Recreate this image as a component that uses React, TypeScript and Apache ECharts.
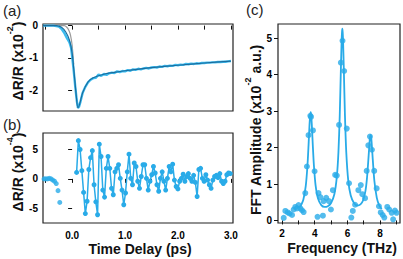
import React, { useEffect, useRef } from "react";
import * as echarts from "echarts";

const FONT = "'Liberation Sans', Arial, Helvetica, sans-serif";
const LIGHT = "#29abe8";
const DARK = "#1b6d9e";

// (a) transient reflectivity, ΔR/R in units of 1e-2
const decayTime = [
  -0.55, -0.45, -0.35, -0.25, -0.2, -0.15, -0.1, -0.05, -0.02, 0.0, 0.03, 0.06, 0.09, 0.11, 0.13,
  0.16, 0.2, 0.25, 0.3, 0.35, 0.4, 0.45, 0.5, 0.55, 0.6, 0.65, 0.7, 0.75, 0.8, 0.85, 0.9, 0.95,
  1.0, 1.05, 1.1, 1.15, 1.2, 1.25, 1.3, 1.35, 1.4, 1.45, 1.5, 1.55, 1.6, 1.65, 1.7, 1.75, 1.8,
  1.85, 1.9, 1.95, 2.0, 2.05, 2.1, 2.15, 2.2, 2.25, 2.3, 2.35, 2.4, 2.45, 2.5, 2.55, 2.6, 2.65,
  2.7, 2.75, 2.8, 2.85, 2.9, 2.95, 3.0,
];
const decayData = [
  0, 0, 0, -0.03, -0.1, -0.22, -0.38, -0.52, -0.68, -0.95, -1.4, -1.9, -2.35, -2.55, -2.52,
  -2.35, -2.08, -1.9, -1.76, -1.68, -1.63, -1.62, -1.52, -1.56, -1.5, -1.53, -1.48, -1.46, -1.47,
  -1.42, -1.44, -1.41, -1.42, -1.38, -1.4, -1.36, -1.37, -1.34, -1.36, -1.33, -1.31, -1.33, -1.3,
  -1.29, -1.3, -1.27, -1.28, -1.25, -1.26, -1.24, -1.25, -1.22, -1.23, -1.21, -1.22, -1.19, -1.2,
  -1.18, -1.19, -1.17, -1.18, -1.16, -1.16, -1.15, -1.15, -1.14, -1.14, -1.13, -1.13, -1.12,
  -1.12, -1.11, -1.1,
];
const decayFitTime = [
  -0.55, -0.3, -0.2, -0.12, -0.05, 0.0, 0.04, 0.08, 0.11, 0.14, 0.2, 0.3, 0.4, 0.6, 0.8, 1.0,
  1.3, 1.6, 2.0, 2.5, 3.0,
];
const decayFit = [
  0, 0, -0.05, -0.2, -0.45, -0.85, -1.5, -2.2, -2.55, -2.45, -2.08, -1.75, -1.62, -1.51, -1.45,
  -1.4, -1.34, -1.29, -1.23, -1.16, -1.1,
];
const onsetTime = [-0.25, -0.15, -0.1, -0.06, -0.03, 0.0, 0.03];
const onsetTrace = [0, 0, -0.05, -0.15, -0.3, -0.6, -1.2];

// (b) oscillatory residual, units of 1e-4
const oscPreTime = [-0.53, -0.497, -0.464, -0.431, -0.398, -0.365, -0.332, -0.299, -0.266, -0.233];
const oscPre = [0, 0, 0, 0.1, 0, -0.2, -0.4, -0.8, -2.0, -4.0];
const oscStart = 0.085;
const oscStep = 0.033;
const oscData = [
  1.1, 6.5, 5.0, 1.4, -2.3, -5.9, -3.8, 1.6, 3.6, 4.8, -1.0, -3.9, -6.1, 5.9, 3.8, -1.9, -3.1,
  1.8, 3.8, 1.8, -1.6, -2.7, 1.2, 1.8, 2.4, 0.1, -1.9, -4.4, -2.4, 1.2, 4.2, 0.1, -1.0, 2.7, 2.1,
  -0.4, -1.6, 0.4, 2.4, 2.4, 0.1, -1.9, -0.4, 0.7, 2.1, 1.0, -1.0, -2.1, 0.1, 1.2, -0.4, -1.9,
  0.1, 2.1, 1.2, 2.5, -0.2, -1.3, -1.7, -0.4, 0.1, 0.8, -0.4, 0.4, 0.9, 0.1, -0.4, 0.6, -0.6,
  -3.0, 1.6, 1.8, 0.1, -0.4, 0.7, -0.2, -1.0, -1.6, -0.2, 0.4, 0.6, 0.2, 0.9, -0.4, -0.8, -0.4,
  0.7, 1.0, 0.9,
];

// (c) FFT amplitude, units of 1e-2
const fftFreq = [
  2.1, 2.2, 2.34, 2.46, 2.61, 2.71, 2.81, 2.91, 3.01, 3.12, 3.22, 3.32, 3.42, 3.52, 3.62, 3.73,
  3.77, 3.89, 3.99, 4.17, 4.23, 4.34, 4.5, 4.54, 4.7, 4.87, 4.99, 5.11, 5.25, 5.35, 5.49, 5.6,
  5.7, 5.8, 5.96, 6.1, 6.24, 6.33, 6.47, 6.67, 6.82, 6.91, 7.08, 7.18, 7.28, 7.38, 7.5, 7.64,
  7.79, 7.93, 8.04, 8.16, 8.26, 8.44, 8.56, 8.71, 8.8, 8.91, 9.01,
];
const fftAmp = [
  0.07, 0.26, 0.22, 0.19, 0.15, 0.3, 0.37, 0.33, 0.42, 0.33, 0.28, 0.23, 0.75, 1.48, 2.34, 2.87,
  2.84, 2.47, 1.35, 0.1, 0.75, 0.64, 0.13, 0.53, 0.62, 0.53, 0.3, 0.83, 1.25, 1.23, 2.62, 4.33,
  4.93, 4.1, 2.52, 1.02, 0.08, 0.26, 0.43, 0.83, 0.97, 0.72, 0.61, 1.36, 2.06, 2.3, 1.94, 1.36,
  0.88, 0.39, 0.22, 0.15, 0.08, 0.37, 0.3, 0.21, 0.03, 0.27, 0.21,
];
const fitFreq = [
  3.1, 3.3, 3.45, 3.55, 3.62, 3.68, 3.72, 3.75, 3.78, 3.82, 3.88, 3.95, 4.05, 4.2, 4.4, 4.6, 4.8,
  5.0, 5.2, 5.35, 5.45, 5.53, 5.6, 5.65, 5.67, 5.69, 5.71, 5.73, 5.78, 5.85, 5.93, 6.05, 6.2,
  6.4, 6.6, 6.8, 6.95, 7.1, 7.2, 7.3, 7.36, 7.39, 7.42, 7.45, 7.48, 7.55, 7.65, 7.8, 7.95, 8.1,
];
const fitAmp = [
  0.36, 0.57, 0.95, 1.48, 2.06, 2.63, 2.88, 2.97, 2.9, 2.63, 2.07, 1.5, 0.97, 0.6, 0.42, 0.37,
  0.39, 0.48, 0.72, 1.19, 1.87, 2.87, 4.15, 4.99, 5.17, 5.26, 5.17, 4.99, 4.15, 2.87, 1.87, 1.1,
  0.69, 0.48, 0.41, 0.44, 0.54, 0.8, 1.17, 1.78, 2.17, 2.3, 2.35, 2.3, 2.16, 1.69, 1.09, 0.62,
  0.41, 0.31,
];

const timeTicks = [-0.5, 0, 0.5, 1, 1.5, 2, 2.5, 3];
const timeLabels = [0, 1, 2, 3];
const decayTicks = [0, -1, -2];
const oscTicks = [-5, 0, 5];
const freqTicks = [2, 3, 4, 5, 6, 7, 8, 9];
const freqLabels = [2, 4, 6, 8];
const fftTicks = [0, 1, 2, 3, 4, 5];

const zip = (xs: number[], ys: number[]) => xs.map((x, i) => [x, ys[i]]);

const tick = (values: number[]) => ({
  show: true,
  inside: false,
  length: 4,
  lineStyle: { color: "#111", width: 1 },
  customValues: values,
});

const label = (values: number[] | null, margin: number, fmt?: (v: number) => string) =>
  values
    ? {
        show: true,
        customValues: values,
        margin,
        color: "#000",
        fontSize: 10,
        fontWeight: "bold" as const,
        fontFamily: FONT,
        formatter: fmt ?? ((v: number) => String(v)),
      }
    : { show: false };

const axis = (
  gridIndex: number,
  min: number,
  max: number,
  ticks: number[],
  labels: number[] | null,
  margin: number,
  fmt?: (v: number) => string
) => ({
  type: "value" as const,
  gridIndex,
  min,
  max,
  axisLine: { show: false },
  axisTick: tick(ticks),
  axisLabel: label(labels, margin, fmt),
  splitLine: { show: false },
});

// rotated axis title with a superscript exponent
const expTitle = (x: number, y: number, main: string, sup: string, tail: string) => ({
  type: "text",
  x,
  y,
  rotation: Math.PI / 2,
  style: {
    text: `{b|${main}}{s|${sup}}{b|${tail}}`,
    align: "center",
    verticalAlign: "middle",
    rich: {
      b: {
        fontFamily: FONT,
        fontSize: 14,
        fontWeight: "bold",
        fill: "#111",
        lineHeight: 19,
        verticalAlign: "bottom",
      },
      s: {
        fontFamily: FONT,
        fontSize: 9,
        fontWeight: "bold",
        fill: "#111",
        lineHeight: 19,
        verticalAlign: "top",
      },
    },
  },
});

const plainTitle = (x: number, y: number, text: string) => ({
  type: "text",
  x,
  y,
  style: {
    text,
    fontFamily: FONT,
    fontSize: 14,
    fontWeight: "bold",
    fill: "#111",
    align: "center",
    verticalAlign: "middle",
  },
});

const panelLabel = (x: number, y: number, text: string) => ({
  type: "text",
  x,
  y,
  style: { text, fontFamily: FONT, fontSize: 15, fill: "#222", align: "left", verticalAlign: "top" },
});

export default function App() {
  const ref = useRef<HTMLDivElement>(null);

  useEffect(() => {
    if (!ref.current) return;
    const chart = echarts.init(ref.current, undefined, { renderer: "svg" });
    const frame = { show: true, borderColor: "#222", borderWidth: 1.2, backgroundColor: "transparent" };

    chart.setOption({
      animation: false,
      grid: [
        { ...frame, left: 43, top: 24, width: 190, height: 87 },
        { ...frame, left: 43, top: 133, width: 190, height: 90 },
        { ...frame, left: 278, top: 24, width: 122, height: 199 },
      ],
      xAxis: [
        axis(0, -0.55, 3.04, timeTicks, null, 0),
        axis(1, -0.55, 3.04, timeTicks, timeLabels, 7, (v) => v.toFixed(1)),
        axis(2, 1.75, 9.22, freqTicks, freqLabels, 5),
      ],
      yAxis: [
        axis(0, -2.65, 0.05, decayTicks, decayTicks, 5),
        axis(1, -7.5, 7.8, oscTicks, oscTicks, 5),
        axis(2, -0.07, 5.39, fftTicks, fftTicks, 6),
      ],
      series: [
        {
          type: "line",
          xAxisIndex: 0,
          yAxisIndex: 0,
          data: zip(onsetTime, onsetTrace),
          showSymbol: false,
          smooth: 0.3,
          lineStyle: { color: "#9a9a9a", width: 1.2 },
          z: 1,
        },
        {
          type: "line",
          xAxisIndex: 0,
          yAxisIndex: 0,
          data: zip(decayTime, decayData),
          showSymbol: false,
          lineStyle: { color: "#3cbcf0", width: 2.4 },
          z: 2,
        },
        {
          type: "line",
          xAxisIndex: 0,
          yAxisIndex: 0,
          data: zip(decayFitTime, decayFit),
          showSymbol: false,
          smooth: 0.3,
          lineStyle: { color: DARK, width: 1.2 },
          z: 3,
        },
        {
          type: "scatter",
          xAxisIndex: 1,
          yAxisIndex: 1,
          data: zip(oscPreTime, oscPre),
          symbolSize: 5,
          itemStyle: { color: LIGHT },
        },
        {
          type: "line",
          xAxisIndex: 1,
          yAxisIndex: 1,
          data: oscData.map((v, i) => [oscStart + i * oscStep, v]),
          symbol: "circle",
          symbolSize: 5,
          showSymbol: true,
          lineStyle: { color: LIGHT, width: 1.5 },
          itemStyle: { color: LIGHT },
        },
        {
          type: "line",
          xAxisIndex: 2,
          yAxisIndex: 2,
          data: zip(fitFreq, fitAmp),
          showSymbol: false,
          smooth: 0.25,
          lineStyle: { color: LIGHT, width: 1.8 },
        },
        {
          type: "scatter",
          xAxisIndex: 2,
          yAxisIndex: 2,
          data: zip(fftFreq, fftAmp),
          symbolSize: 6,
          itemStyle: { color: LIGHT },
        },
      ],
      graphic: [
        panelLabel(3, 3, "(a)"),
        panelLabel(3, 117, "(b)"),
        panelLabel(246, 2, "(c)"),
        expTitle(15, 61, "ΔR/R (x10", "-2", ")"),
        expTitle(15, 172, "ΔR/R (x10", "-4", ")"),
        expTitle(253, 130, "FFT Amplitude (x10", "-2", " a.u.)"),
        plainTitle(140, 249, "Time Delay (ps)"),
        plainTitle(342, 248, "Frequency (THz)"),
      ],
    });
    return () => chart.dispose();
  }, []);

  return (
    <div
      ref={ref}
      style={{ position: "absolute", left: 0, top: 0, width: 403, height: 259, background: "#fff" }}
    />
  );
}
